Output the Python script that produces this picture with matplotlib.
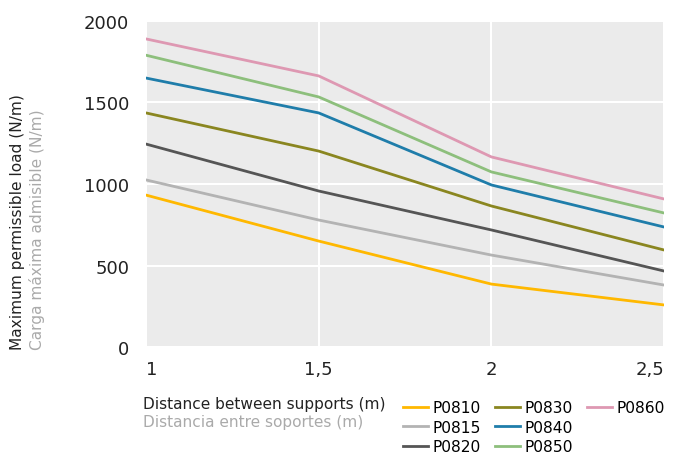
import matplotlib.pyplot as plt
from matplotlib.lines import Line2D

# Data
distances = [1, 1.5, 2, 2.5]
series_names = ['P0810', 'P0815', 'P0820', 'P0830', 'P0840', 'P0850', 'P0860']
p0810 = [932, 650, 386, 258]
p0815 = [1025, 779, 564, 380]
p0820 = [1245, 957, 718, 466]
p0830 = [1436, 1202, 865, 595]
p0840 = [1650, 1436, 994, 736]
p0850 = [1790, 1534, 1074, 822]
p0860 = [1890, 1663, 1166, 908]
values = [p0810, p0815, p0820, p0830, p0840, p0850, p0860]
colors = ['#FFB800', '#B3B3B3', '#555555', '#8A8620', '#1F7DAA', '#8DBF7C', '#DE98B2']

xticks = [1, 1.5, 2, 2.5]
xtick_labels = ['1', '1,5', '2', '2,5']
yticks = [0, 500, 1000, 1500, 2000]

plt.rcParams['font.family'] = ['DejaVu Sans']

fig = plt.figure(figsize=(6.8, 4.56), dpi=100)
ax = fig.add_axes([0.2147, 0.2368, 0.762, 0.715])
ax.set_facecolor('#EBEBEB')

handles = []
for name, vals, c in zip(series_names, values, colors):
    ln, = ax.plot(distances, vals, color=c, linewidth=2, label=name)
    handles.append(ln)

ax.set_xlim(1, 2.5)
ax.set_ylim(0, 2000)
ax.set_xticks(xticks)
ax.set_xticklabels(xtick_labels)
ax.set_yticks(yticks)
ax.grid(True, color='white', linewidth=1.5)
ax.set_axisbelow(True)
for s in ax.spines.values():
    s.set_visible(False)
ax.tick_params(length=0, labelsize=13, colors='#222222', pad=9)
ax.tick_params(axis='y', pad=12)
lbls = ax.get_xticklabels()
lbls[0].set_ha('left')
lbls[-1].set_ha('right')

# Axis titles (two languages)
fig.text(18 / 680, 1 - 350 / 456, 'Maximum permissible load (N/m)', rotation=90,
         ha='center', va='bottom', fontsize=11.1, color='#222222')
fig.text(37 / 680, 1 - 350 / 456, 'Carga máxima admisible (N/m)', rotation=90,
         ha='center', va='bottom', fontsize=11.1, color='#AAAAAA')
fig.text(143 / 680, 1 - 405 / 456, 'Distance between supports (m)',
         ha='left', va='center', fontsize=11.1, color='#222222')
fig.text(143 / 680, 1 - 423 / 456, 'Distancia entre soportes (m)',
         ha='left', va='center', fontsize=11.1, color='#AAAAAA')

# legend: 3 + 3 + 1 per column, pad last column with blanks
blank = Line2D([], [], color='none')
leg_handles = handles + [blank, blank]
leg_labels = series_names + ['', '']
fig.legend(leg_handles, leg_labels, loc='upper left',
           bbox_to_anchor=(403 / 680, 1 - 401 / 456), ncol=3,
           frameon=False, fontsize=11.2, handlelength=1.6, handletextpad=0.3,
           columnspacing=0.9, labelspacing=0.3, borderpad=0, borderaxespad=0)

fig.savefig('out.png', dpi=100)
